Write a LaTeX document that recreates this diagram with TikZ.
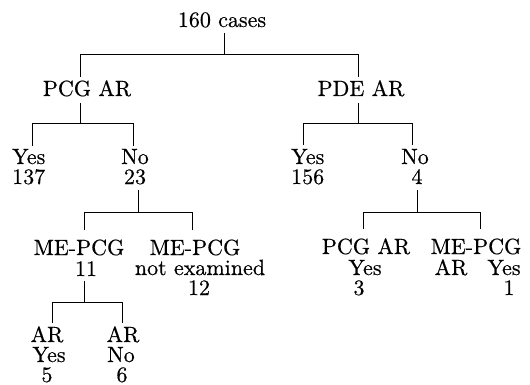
\documentclass[tikz,border=0pt]{standalone}
\usepackage{fontspec}
\setmainfont{lmroman10-regular.otf}[FakeBold=0.5]
\begin{document}
\begin{tikzpicture}[x=1pt,y=-1pt,
  txt/.style={inner sep=0pt,anchor=base,font=\fontsize{22}{24}\selectfont},
  txtw/.style={txt,anchor=base west},
  conn/.style={line width=0.75pt,line cap=butt}]
\useasboundingbox (0,0) rectangle (530,385);
% texts
\node[txt] (root) at (222,27) {160 cases};
\node[txt] (pcg) at (87,96) {PCG AR};
\node[txt] (pde) at (361,96) {PDE AR};
\node[txtw] (yesA) at (12,164) {Yes};
\node[txtw] (nA) at (12,184) {137};
\node[txt] (noA) at (135,164) {No};
\node[txt] (nB) at (135,184) {23};
\node[txtw] (yesB) at (291,164) {Yes};
\node[txtw] (nC) at (291,184) {156};
\node[txt] (noB) at (415,164) {No};
\node[txt] (nD) at (417,184) {4};
\node[txt] (meA) at (79,255) {ME-PCG};
\node[txt] (nE) at (86,276) {11};
\node[txt] (meB) at (195,255) {ME-PCG};
\node[txt] (notex) at (200,275) {not examined};
\node[txt] (nF) at (199,295) {12};
\node[txt] (pcgB) at (366,254) {PCG AR};
\node[txt] (yesC) at (365,275) {Yes};
\node[txt] (nG) at (359,295) {3};
\node[txt] (meC) at (476,254) {ME-PCG};
\node[txt] (arC) at (451,275) {AR};
\node[txt] (yesD) at (504,275) {Yes};
\node[txt] (nH) at (509,295) {1};
\node[txt] (arA) at (47,342) {AR};
\node[txt] (yesE) at (49,362) {Yes};
\node[txt] (nI) at (47,382) {5};
\node[txt] (arB) at (123,342) {AR};
\node[txt] (noC) at (121,362) {No};
\node[txt] (nJ) at (122,382) {6};
% bracket coordinates
\coordinate (t1) at (224,33);  \coordinate (b1) at (0,54);
\coordinate (l1) at (80,77);   \coordinate (r1) at (358,77);
\coordinate (t2) at (80,103);  \coordinate (b2) at (0,123);
\coordinate (l2) at (32,146);  \coordinate (r2) at (133,146);
\coordinate (t3) at (358,103); \coordinate (b3) at (0,123);
\coordinate (l3) at (303,145); \coordinate (r3) at (412,145);
\coordinate (t4) at (138,190); \coordinate (b4) at (0,212);
\coordinate (l4) at (84,230);  \coordinate (r4) at (192,230);
\coordinate (t5) at (417,190); \coordinate (b5) at (0,212);
\coordinate (l5) at (363,229); \coordinate (r5) at (480,229);
\coordinate (t6) at (84,281);  \coordinate (b6) at (0,302);
\coordinate (l6) at (52,323);  \coordinate (r6) at (122,323);
\foreach \i in {1,...,6}{
  \draw[conn] (t\i) -- (t\i |- b\i);
  \draw[conn] (l\i) -- (l\i |- b\i) -- (r\i |- b\i) -- (r\i);
}
\end{tikzpicture}
\end{document}
